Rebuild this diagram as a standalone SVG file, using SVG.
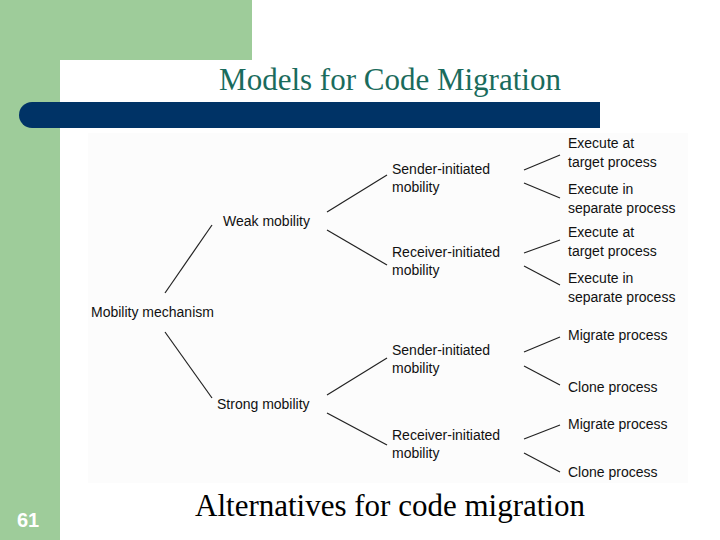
<svg xmlns="http://www.w3.org/2000/svg" width="720" height="540" viewBox="0 0 720 540">
<style>
.t{font-family:"Liberation Sans",Arial,sans-serif;font-size:14px;fill:#111}
.h{font-family:"Liberation Serif","Times New Roman",serif;font-size:31px}
line{stroke:#222;stroke-width:1.2}
</style>
<rect width="720" height="540" fill="#fff"/>
<rect x="0" y="0" width="252" height="100" fill="#9ecc9a"/>
<rect x="0" y="0" width="60" height="540" fill="#9ecc9a"/>
<path d="M60 540V85a25 25 0 0 1 25-25H252V100H60z" fill="#fff"/>
<rect x="60" y="60" width="192" height="80" fill="#fff"/>
<path d="M32 102H600V128H32a13 13 0 0 1 0-26z" fill="#003366"/>
<rect x="88" y="133" width="600" height="350" fill="#fcfcfc"/>
<text class="h" x="390" y="90" text-anchor="middle" fill="#1a6b5c">Models for Code Migration</text>
<text x="28" y="527" text-anchor="middle" font-family="Liberation Sans,Arial,sans-serif" font-size="20" font-weight="bold" fill="#fff">61</text>
<text class="h" x="390" y="516" text-anchor="middle" fill="#000">Alternatives for code migration</text>
<g id="connectors">
<line x1="165" y1="293" x2="212" y2="225"/><line x1="165" y1="332" x2="212" y2="398"/>
<line x1="327" y1="212" x2="387" y2="175"/><line x1="327" y1="230" x2="387" y2="265"/>
<line x1="327" y1="395" x2="387" y2="358"/><line x1="327" y1="413" x2="387" y2="445"/>
<line x1="524" y1="170" x2="560" y2="155"/><line x1="524" y1="183" x2="560" y2="198"/>
<line x1="524" y1="253" x2="560" y2="240"/><line x1="524" y1="266" x2="560" y2="285"/>
<line x1="524" y1="352" x2="560" y2="337"/><line x1="524" y1="366" x2="560" y2="385"/>
<line x1="524" y1="439" x2="560" y2="425"/><line x1="524" y1="453" x2="560" y2="472"/>
</g>
<g id="mobility"><text class="t" x="91" y="317">Mobility mechanism</text></g>
<g id="weak"><text class="t" x="223" y="226">Weak mobility</text></g>
<g id="strong"><text class="t" x="217" y="409">Strong mobility</text></g>
<g id="ws"><text class="t" x="392" y="174">Sender-initiated</text><text class="t" x="392" y="192">mobility</text></g>
<g id="wr"><text class="t" x="392" y="257">Receiver-initiated</text><text class="t" x="392" y="275">mobility</text></g>
<g id="ss"><text class="t" x="392" y="355">Sender-initiated</text><text class="t" x="392" y="373">mobility</text></g>
<g id="sr"><text class="t" x="392" y="440">Receiver-initiated</text><text class="t" x="392" y="458">mobility</text></g>
<g id="a1"><text class="t" x="568" y="148">Execute at</text><text class="t" x="568" y="167">target process</text></g>
<g id="a2"><text class="t" x="568" y="194">Execute in</text><text class="t" x="568" y="213">separate process</text></g>
<g id="a3"><text class="t" x="568" y="237">Execute at</text><text class="t" x="568" y="256">target process</text></g>
<g id="a4"><text class="t" x="568" y="283">Execute in</text><text class="t" x="568" y="302">separate process</text></g>
<g id="a5"><text class="t" x="568" y="340">Migrate process</text></g>
<g id="a6"><text class="t" x="568" y="392">Clone process</text></g>
<g id="a7"><text class="t" x="568" y="429">Migrate process</text></g>
<g id="a8"><text class="t" x="568" y="477">Clone process</text></g>
</svg>
